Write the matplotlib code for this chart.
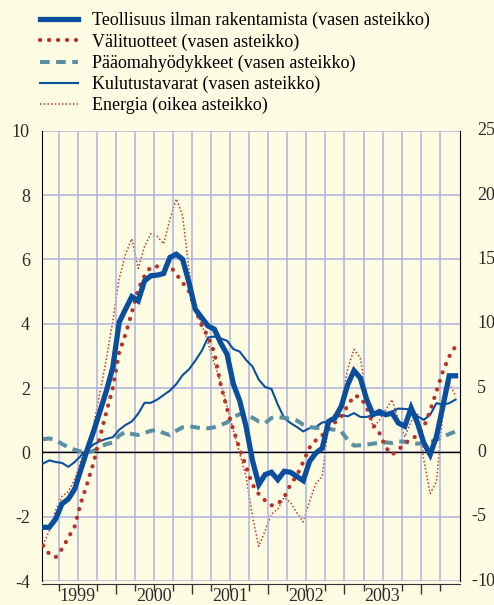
import matplotlib

matplotlib.use("Agg")

import matplotlib.pyplot as plt  # noqa: E402
import matplotlib.transforms as mtransforms  # noqa: E402
from matplotlib.ticker import FixedLocator, NullFormatter  # noqa: E402

# ---------- Data (monthly, Jan 1999 - Jun 2004) ----------

YEARS = [1999, 2000, 2001, 2002, 2003]
MONTHS = list(range(66))

teollisuus = [
    -2.33, -2.33, -2.07, -1.6, -1.45, -1.14, -0.52, 0.1, 0.67, 1.29, 1.92, 2.64,
    4.04, 4.45, 4.84, 4.71, 5.33, 5.49, 5.51, 5.56, 6.06, 6.16, 6.0, 5.28,
    4.45, 4.19, 3.93, 3.83, 3.4, 3.05, 2.12, 1.6, 0.8, -0.25, -1.0, -0.69,
    -0.62, -0.85, -0.59, -0.62, -0.75, -0.88, -0.28, -0.02, 0.13, 0.96, 1.07, 1.43,
    2.1, 2.54, 2.31, 1.64, 1.17, 1.27, 1.17, 1.22, 0.91, 0.81, 1.38, 0.91,
    0.29, -0.07, 0.5, 1.43, 2.38, 2.38,
]
valituotteet = [
    -2.9, -3.16, -3.26, -3.0, -2.65, -2.3, -1.55, -0.95, -0.3, 0.5, 1.26, 2.0,
    3.1, 3.67, 4.35, 5.07, 5.49, 5.77, 5.78, 5.78, 5.8, 5.54, 5.28, 5.0,
    4.45, 3.95, 3.6, 3.1, 2.1, 1.35, 0.7, 0.1, -0.45, -1.0, -1.3, -1.5,
    -1.65, -1.6, -1.4, -1.0, -0.72, -0.3, 0.15, 0.38, 0.53, 0.75, 0.93, 1.12,
    1.45, 1.76, 1.72, 1.4, 0.85, 0.6, 0.15, -0.07, 0.08, 0.28, 0.42, 0.52,
    0.78, 1.3, 1.9, 2.52, 2.98, 3.3,
]
paaomahyodykkeet = [
    0.41, 0.43, 0.39, 0.26, 0.16, 0.08, 0.02, 0.0, 0.05, 0.16, 0.26, 0.3,
    0.52, 0.64, 0.57, 0.54, 0.6, 0.67, 0.7, 0.6, 0.54, 0.67, 0.78, 0.81,
    0.78, 0.75, 0.75, 0.78, 0.85, 0.93, 1.09, 1.19, 1.15, 1.08, 0.96, 0.91,
    1.07, 1.1, 1.07, 1.04, 0.99, 0.86, 0.79, 0.76, 0.76, 0.73, 0.7, 0.65,
    0.39, 0.21, 0.22, 0.24, 0.27, 0.29, 0.31, 0.29, 0.34, 0.33, 0.29, 0.27,
    0.29, 0.32, 0.39, 0.48, 0.57, 0.65,
]
kulutustavarat = [
    -0.35, -0.25, -0.3, -0.33, -0.45, -0.3, -0.1, 0.08, 0.25, 0.35, 0.42, 0.47,
    0.7, 0.85, 0.96, 1.2, 1.54, 1.54, 1.64, 1.78, 1.92, 2.12, 2.4, 2.58,
    2.85, 3.15, 3.57, 3.6, 3.54, 3.47, 3.21, 3.13, 2.87, 2.67, 2.26, 2.03,
    1.97, 1.48, 1.07, 0.91, 0.79, 0.65, 0.75, 0.79, 0.93, 0.95, 1.07, 1.16,
    1.12, 1.22, 1.1, 1.1, 1.17, 1.17, 1.17, 1.27, 1.36, 1.35, 1.33, 1.12,
    1.01, 1.17, 1.53, 1.48, 1.53, 1.64,
]
energia = [
    -7.2, -6.1, -4.5, -3.4, -3.05, -2.1, -0.6, 0.5, 2.2, 4.7, 7.3, 10.2,
    13.5, 15.4, 16.6, 14.3, 16.0, 17.0, 16.8, 16.2, 18.1, 19.7, 18.4, 14.2,
    11.0, 10.0, 8.5, 6.9, 5.4, 3.6, 1.7, -0.1, -1.9, -5.0, -7.3, -6.1,
    -4.8, -4.4, -3.5, -3.9, -4.7, -5.4, -3.8, -2.4, -1.9, 2.4, 3.0, 3.8,
    6.5, 8.0, 7.3, 4.35, 1.9, 2.5, 3.3, 4.1, 2.5, 1.2, 2.4, 3.05,
    -0.6, -3.2, -2.25, 3.05, 5.4, 4.4,
]

LABELS = [
    "Teollisuus ilman rakentamista (vasen asteikko)",
    "Välituotteet (vasen asteikko)",
    "Pääomahyödykkeet (vasen asteikko)",
    "Kulutustavarat (vasen asteikko)",
    "Energia (oikea asteikko)",
]
LEFT_TICKS = [-4, -2, 0, 2, 4, 6, 8, 10]
RIGHT_TICKS = [-10, -5, 0, 5, 10, 15, 20, 25]

# ---------- Style ----------

BG = "#fefce3"
GRID = "#aeb1e0"
BLUE = "#0a4f9e"
RED = "#b8322a"
TEAL = "#5b8fa3"
TEXT = "#2b2b2b"
FS = 13

plt.rcParams["font.family"] = ["Liberation Serif", "DejaVu Serif"]
plt.rcParams["axes.unicode_minus"] = False

x = [1999 + (m + 0.5) / 12 for m in MONTHS]

fig = plt.figure(figsize=(4.94, 6.05), dpi=100, facecolor=BG)
ax = fig.add_axes([41.7 / 494, 1 - 581 / 605, (460 - 41.7) / 494, (581 - 130.7) / 605])
ax2 = ax.twinx()
ax.set_zorder(ax2.get_zorder() + 1)
ax.patch.set_visible(False)
ax2.set_facecolor(BG)

# energy on right scale (drawn below the rest)
(l_en,) = ax2.plot(x, energia, color="#c0392b", lw=1.1, linestyle=(0, (1, 1.4)))
ax2.set_ylim(-10, 25)

(l_kul,) = ax.plot(x, kulutustavarat, color=BLUE, lw=1.5, zorder=3)
(l_paa,) = ax.plot(x, paaomahyodykkeet, color=TEAL, lw=2.9, linestyle=(0, (2.4, 1.6)),
                   zorder=3)
(l_val,) = ax.plot(x, valituotteet, color=RED, lw=3.0, linestyle=(0, (0.05, 2.1)),
                   dash_capstyle="round", zorder=4)
(l_teo,) = ax.plot(x, teollisuus, color=BLUE, lw=3.8, solid_joinstyle="miter", zorder=5)

ax.axhline(0, color="black", lw=1.0, zorder=2)

ax.set_ylim(-4, 10)
ax.set_xlim(1999 + 0.3 / 12, 1999 + 66.2 / 12)
ax.set_yticks(LEFT_TICKS)
ax.set_yticklabels([str(v) for v in LEFT_TICKS])

quarters = [1999 + q / 4 for q in range(1, 22)]
ax.xaxis.set_major_locator(FixedLocator([y + 1 for y in YEARS[:-1]] + [2004]))
ax.xaxis.set_minor_locator(FixedLocator(quarters))
ax.xaxis.set_major_formatter(NullFormatter())
ax.grid(axis="y", color=GRID, lw=1.1, zorder=0)
for q in quarters:
    ax.axvline(q, color=GRID, lw=1.1, zorder=0)

ax.tick_params(axis="y", length=0, pad=8.5, labelsize=FS, labelcolor=TEXT)
ax.tick_params(axis="x", which="major", length=7, width=1, color="#333333")
ax.tick_params(axis="x", which="minor", length=5, width=1, color="#333333")

for s in ("top", "right"):
    ax.spines[s].set_visible(False)
ax.spines["left"].set_color("black")
ax.spines["bottom"].set_position(("outward", 2))
ax.spines["bottom"].set_color("#333333")

for s in ("top", "left", "bottom"):
    ax2.spines[s].set_visible(False)
ax2.spines["right"].set_color("black")
ax2.set_yticks(RIGHT_TICKS)
ax2.set_yticklabels([])
ax2.tick_params(axis="y", length=0)

# right-hand labels: digits aligned, minus hanging to the left
tr = mtransforms.blended_transform_factory(ax2.transAxes, ax2.transData)
for v in RIGHT_TICKS:
    ax2.annotate(str(abs(v)), xy=(1, v), xycoords=tr, xytext=(12.3, 0),
                 textcoords="offset points", ha="left", va="center",
                 fontsize=FS, color=TEXT, annotation_clip=False)
    if v < 0:
        ax2.annotate("-", xy=(1, v), xycoords=tr, xytext=(12.3, 0),
                     textcoords="offset points", ha="right", va="center",
                     fontsize=FS, color=TEXT, annotation_clip=False)

# year labels centred under each year
trx = mtransforms.blended_transform_factory(ax.transData, ax.transAxes)
for yr in YEARS:
    ax.annotate(str(yr), xy=(yr + 0.5, 0), xycoords=trx, xytext=(0, -5),
                textcoords="offset points", ha="center", va="top",
                fontsize=FS, color=TEXT, annotation_clip=False)

fig.legend(
    [l_teo, l_val, l_paa, l_kul, l_en],
    LABELS,
    loc="upper left",
    bbox_to_anchor=(40 / 494, 1 - 12 / 605),
    frameon=False,
    fontsize=FS,
    handlelength=2.1,
    handletextpad=0.8,
    labelspacing=0.22,
    borderpad=0,
    borderaxespad=0,
)

fig.savefig("out.png", dpi=100, facecolor=BG)
